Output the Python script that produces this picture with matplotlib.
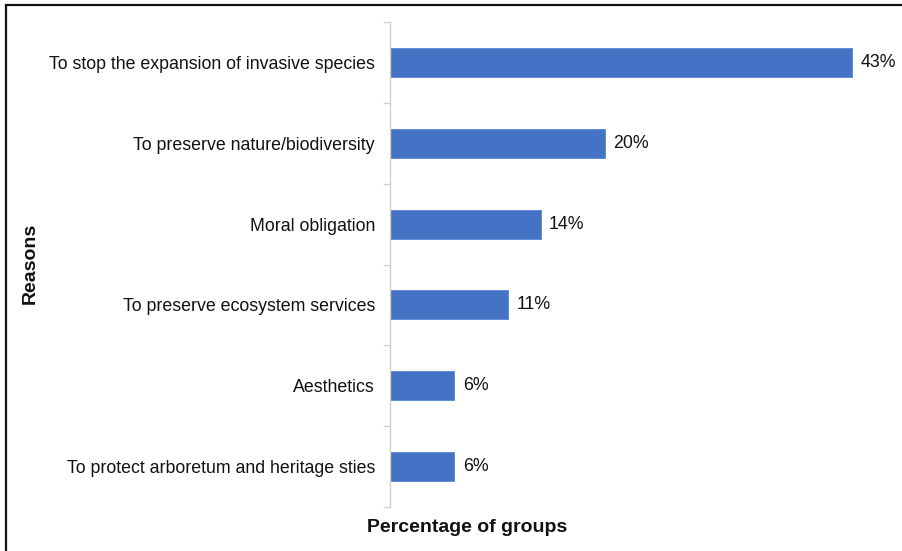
import matplotlib.pyplot as plt
from matplotlib.patches import Rectangle

# reasons, top to bottom
reasons = ['To stop the expansion of invasive species',
           'To preserve nature/biodiversity',
           'Moral obligation',
           'To preserve ecosystem services',
           'Aesthetics',
           'To protect arboretum and heritage sties']
pct = [43, 20, 14, 11, 6, 6]

plt.rcParams['font.family'] = ['Liberation Sans', 'DejaVu Sans']

W, H = 903, 551
fig = plt.figure(figsize=(W / 100, H / 100), dpi=100)
ax = fig.add_axes([390 / W, 1 - 507 / H, 1 - 390 / W, (507 - 22) / H])

ypos = list(range(len(reasons)))
ax.barh(ypos, pct, height=0.36, color='#4472C4', edgecolor='#5a86d6', linewidth=0.6)
for y, v in zip(ypos, pct):
    ax.text(v + 0.8, y, f'{v}%', va='center', ha='left', fontsize=12.8, color='#111111')

ax.set_ylim(len(reasons) - 0.5, -0.5)
ax.set_xlim(0, 513 / 10.75)

# category labels centred, ticks at the boundaries
ax.set_yticks(ypos)
ax.set_yticklabels(reasons, fontsize=12.8, color='#111111')
ax.tick_params(axis='y', which='major', length=0, pad=10.8)
ax.set_yticks([i - 0.5 for i in range(len(reasons) + 1)], minor=True)
ax.tick_params(axis='y', which='minor', length=5, color='#d0d0d0', width=1)
ax.set_xticks([])

for s in ['top', 'right', 'bottom']:
    ax.spines[s].set_visible(False)
ax.spines['left'].set_color('#d0d0d0')
ax.spines['left'].set_linewidth(1)

fig.text(467 / W, 1 - 528 / H, 'Percentage of groups', ha='center', va='center',
         fontsize=14, fontweight='bold', color='#111111')
fig.text(30 / W, 1 - 263 / H, 'Reasons', ha='center', va='center', rotation=90,
         fontsize=14, fontweight='bold', color='#111111')

# outer frame (only top and left edges fall inside the picture)
fig.patches.append(Rectangle((6 / W, -0.1), 1.2, 1.1 - 5 / H, transform=fig.transFigure,
                             fill=False, edgecolor='#111111', linewidth=1.6))

fig.savefig('out.png', dpi=100)
